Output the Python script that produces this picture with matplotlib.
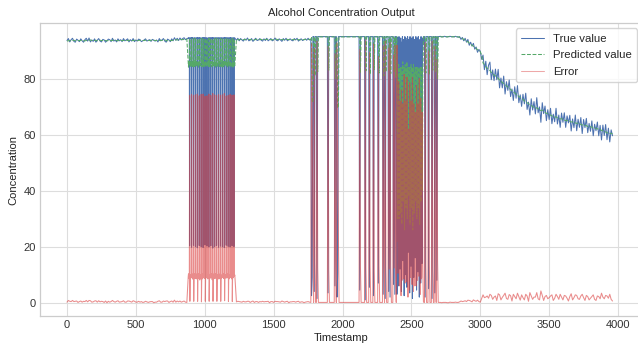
import numpy as np
import matplotlib
matplotlib.use("Agg")
import matplotlib.pyplot as plt
import seaborn as sns

# ---------------- data ----------------
# Segment A: t = 0..870 step 10
seg_a_true = [93.6, 94.3, 93.1, 93.9, 94.4, 93.3, 93.0, 94.1, 93.7, 93.2,
              94.2, 93.5, 93.0, 93.9, 94.4, 93.4, 94.5, 93.1, 93.8, 93.3,
              94.2, 93.0, 93.7, 94.3, 93.4, 93.1, 94.0, 93.8, 93.0, 93.5,
              94.1, 93.9, 93.2, 94.4, 93.4, 93.8, 93.1, 94.2, 93.5, 93.9,
              93.2, 94.3, 93.5, 93.8, 94.2, 93.1, 93.9, 93.4, 94.3, 93.2,
              93.8, 93.4, 94.1, 93.9, 93.2, 93.5, 93.8, 94.2, 93.4, 93.7,
              93.9, 93.3, 94.0, 93.7, 93.4, 93.8, 93.1, 94.3, 93.5, 93.8,
              94.3, 93.4, 93.0, 94.1, 93.8, 93.2, 94.2, 93.5, 94.6, 93.7,
              94.4, 93.6, 94.5, 93.8, 94.3, 94.6, 93.9, 94.2]
seg_a_pred = [93.4, 93.5, 93.6, 93.5, 93.6, 93.7, 93.5, 93.5, 93.6, 93.6,
              93.6, 93.7, 93.5, 93.5, 93.6, 93.7, 93.7, 93.8, 93.6, 93.6,
              93.6, 93.7, 93.5, 93.6, 93.7, 93.6, 93.6, 93.7, 93.6, 93.5,
              93.6, 93.7, 93.6, 93.6, 93.8, 93.6, 93.6, 93.5, 93.7, 93.6,
              93.6, 93.6, 93.7, 93.6, 93.6, 93.7, 93.5, 93.6, 93.6, 93.7,
              93.6, 93.6, 93.6, 93.7, 93.6, 93.6, 93.6, 93.7, 93.7, 93.6,
              93.6, 93.7, 93.6, 93.7, 93.6, 93.6, 93.6, 93.6, 93.7, 93.6,
              93.7, 93.8, 93.6, 93.5, 93.7, 93.6, 93.6, 93.7, 93.7, 93.9,
              93.8, 93.9, 93.9, 94.0, 93.9, 94.0, 94.1, 94.1]

# Segment B: t = 880..1218 step 2 (oscillating block)
seg_b_true = [94.5, 94.4, 94.6, 94.5, 94.5, 20.3, 94.5,
              94.6, 94.5, 94.4, 94.5, 94.6, 19.8, 94.6,
              94.4, 94.5, 94.6, 94.5, 94.4, 20.5, 94.4,
              94.5, 94.6, 94.5, 94.4, 94.5, 20.1, 94.5,
              94.5, 94.4, 94.5, 94.6, 94.5, 19.6, 94.7,
              94.6, 94.5, 94.4, 94.5, 94.6, 20.4, 94.5,
              94.4, 94.6, 94.5, 94.5, 94.4, 20.0, 94.4,
              94.5, 94.5, 94.6, 94.4, 94.5, 19.7, 94.6,
              94.6, 94.4, 94.5, 94.5, 94.6, 20.6, 94.5,
              94.5, 94.6, 94.4, 94.5, 94.5, 20.2, 94.3,
              94.4, 94.5, 94.5, 94.6, 94.4, 19.9, 94.5,
              94.5, 94.4, 94.6, 94.5, 94.5, 20.3, 94.6,
              94.6, 94.5, 94.5, 94.4, 94.6, 19.5, 94.4,
              94.5, 94.6, 94.4, 94.5, 94.5, 20.1, 94.5,
              94.4, 94.5, 94.6, 94.5, 94.4, 20.4, 94.6,
              94.5, 94.4, 94.5, 94.6, 94.5, 19.8, 94.5,
              94.6, 94.5, 94.4, 94.5, 94.6, 20.2, 94.4,
              94.5, 94.6, 94.5, 94.4, 94.5, 20.0, 94.5,
              94.4, 94.5, 94.6, 94.5, 94.4, 19.7, 94.7,
              94.5, 94.4, 94.5, 94.6, 94.5, 20.5, 94.5,
              94.6, 94.5, 94.4, 94.5, 94.6, 20.1, 94.4,
              94.5, 94.6, 94.5, 94.4, 94.5, 19.9, 94.6,
              94.4, 94.5, 94.6, 94.5, 94.4, 20.3, 94.5,
              94.5, 94.4, 94.5, 94.6, 94.5, 20.0, 94.4,
              94.6, 94.5]
seg_b_pred = [85.2, 84.1, 85.9, 84.6, 85.4, 94.3, 94.0,
              84.8, 86.2, 84.4, 85.5, 84.7, 94.2, 85.3,
              85.6, 84.3, 85.0, 86.1, 84.5, 94.4, 93.9,
              84.2, 85.7, 84.9, 85.1, 85.8, 94.3, 84.8,
              85.9, 84.5, 86.0, 84.4, 85.2, 94.1, 94.2,
              84.6, 85.8, 84.1, 85.3, 84.9, 94.3, 85.6,
              86.3, 84.7, 85.4, 84.6, 85.7, 94.4, 94.1,
              85.4, 84.2, 86.1, 85.0, 84.4, 94.2, 85.1,
              84.7, 85.6, 84.3, 85.8, 85.1, 94.3, 94.0,
              85.9, 84.4, 85.2, 84.1, 85.6, 94.1, 84.7,
              84.5, 86.0, 84.8, 85.6, 84.3, 94.4, 94.0,
              85.0, 84.3, 85.9, 84.7, 85.5, 94.3, 85.4,
              85.7, 84.9, 84.2, 86.2, 84.8, 94.2, 93.9,
              84.3, 85.4, 85.8, 84.5, 85.9, 94.3, 84.9,
              85.5, 84.1, 85.1, 85.9, 84.6, 94.4, 94.1,
              84.8, 85.7, 84.4, 85.2, 86.0, 94.1, 85.2,
              86.1, 84.6, 85.5, 84.3, 85.3, 94.3, 93.9,
              84.6, 85.9, 84.8, 85.4, 84.2, 94.2, 85.5,
              85.3, 84.2, 86.0, 84.9, 85.6, 94.4, 94.0,
              84.4, 85.3, 84.6, 85.8, 84.9, 94.3, 84.6,
              85.8, 84.7, 85.2, 84.2, 85.7, 94.1, 94.0,
              84.9, 86.1, 84.5, 85.6, 84.4, 94.3, 85.3,
              85.3, 84.2, 85.7, 84.8, 85.9, 94.4, 94.1,
              84.5, 85.6, 84.1, 85.4, 85.0, 94.2, 84.8,
              85.0, 84.6]

# Segment C: t = 1230..1770 step 10
seg_c_true = [93.7, 94.4, 93.5, 94.3, 93.8, 93.4, 94.2, 93.7, 94.5, 93.5,
              93.8, 94.3, 93.3, 93.9, 94.4, 93.6, 93.8, 94.3, 93.7, 93.4,
              94.2, 93.6, 94.4, 93.5, 93.9, 94.3, 93.5, 93.8, 94.5, 93.7,
              93.5, 94.2, 93.8, 93.3, 94.3, 93.7, 94.4, 93.5, 93.9, 94.2,
              93.7, 93.5, 94.3, 93.8, 94.4, 93.4, 93.9, 94.2, 93.6, 93.9,
              94.2, 93.7, 94.4, 93.8, 94.1]
seg_c_pred = [94.0, 93.9, 93.9, 94.0, 94.0, 93.9, 93.9, 94.0, 94.0, 94.0,
              93.9, 93.9, 93.9, 93.8, 94.0, 94.0, 93.9, 93.9, 94.0, 93.9,
              93.9, 94.0, 94.0, 94.0, 93.9, 93.9, 93.9, 93.9, 94.0, 94.1,
              93.9, 93.9, 94.0, 93.9, 93.9, 93.9, 94.0, 94.0, 93.9, 93.9,
              94.0, 93.9, 93.9, 94.0, 94.0, 93.9, 93.8, 93.9, 93.9, 93.9,
              94.0, 94.0, 94.0, 94.0, 94.0]

# Segment D: plateau at 95 with drop-outs (t step 5), dense block step 2.5
seg_d_level_true = 95.0
seg_d_level_pred = 94.9
spike_t = [1775, 1780, 1785, 1795, 1800, 1815, 1820, 1895, 1900, 1945, 1950,
           1960, 1965, 1970, 2125, 2130, 2165, 2170, 2195, 2200, 2225, 2230,
           2260, 2265, 2295, 2300, 2310, 2315, 2335, 2340, 2345, 2350, 2370,
           2375, 2380, 2385, 2600, 2605, 2625, 2630, 2650, 2655, 2670, 2675,
           2685, 2690]
spike_true = [2.5, 9.0, 95.0, 4.0, 95.0, 1.5, 95.0, 3.5, 95.0, 6.0, 95.0,
              2.0, 10.5, 95.0, 4.5, 95.0, 1.0, 95.0, 5.5, 95.0, 2.5, 95.0,
              7.0, 95.0, 3.0, 95.0, 1.5, 95.0, 4.0, 95.0, 2.0, 95.0, 6.5,
              95.0, 3.0, 95.0, 2.0, 95.0, 5.0, 95.0, 1.5, 95.0, 3.5, 95.0,
              8.0, 95.0]
spike_pred = [94.9, 72.0, 71.5, 94.9, 81.0, 94.9, 82.5, 94.9, 83.0, 94.9, 80.0,
              94.8, 69.5, 70.0, 94.9, 82.0, 94.9, 82.8, 94.9, 81.5, 94.9, 83.2,
              94.9, 82.0, 94.9, 81.0, 94.9, 82.4, 94.9, 83.0, 94.9, 81.8, 94.9,
              82.6, 94.9, 80.5, 94.9, 82.0, 94.9, 81.5, 94.9, 83.0, 94.9, 82.2,
              94.9, 80.0]
dense_true = [3.0, 8.0, 94.8, 90.5, 93.0, 6.0, 95.0, 88.0, 92.5, 12.0,
              91.0, 94.5, 86.5, 4.0, 93.0, 90.0, 95.0, 15.0, 89.0, 94.0,
              91.5, 2.5, 87.0, 95.0, 92.0, 10.0, 94.5, 89.5, 93.5, 5.5,
              90.0, 95.0, 86.0, 18.0, 92.5, 94.0, 88.5, 3.5, 95.0, 91.0,
              93.5, 13.0, 87.5, 94.5, 90.5, 1.5, 92.0, 95.0, 89.0, 9.0,
              94.0, 91.5, 86.0, 16.0, 93.0, 95.0, 90.0, 4.5, 88.0, 94.5,
              92.0, 11.0, 95.0, 89.5, 93.5, 2.0, 91.0, 94.0, 87.0, 7.0,
              95.0, 90.5, 93.0, 14.0, 88.5, 94.5, 92.0, 95.0]
dense_pred = [94.9, 30.0, 35.0, 80.0, 82.0, 85.0, 30.0, 82.0, 80.0, 84.0,
              32.0, 78.0, 84.0, 80.0, 28.0, 82.0, 80.0, 86.0, 36.0, 78.0,
              83.0, 84.0, 26.0, 80.0, 85.0, 82.0, 34.0, 82.0, 80.0, 86.0,
              30.0, 78.0, 84.0, 80.0, 38.0, 80.0, 84.0, 82.0, 28.0, 82.0,
              80.0, 85.0, 34.0, 78.0, 84.0, 82.0, 26.0, 80.0, 85.0, 80.0,
              32.0, 82.0, 80.0, 84.0, 36.0, 80.0, 84.0, 82.0, 30.0, 78.0,
              84.0, 82.0, 34.0, 80.0, 84.0, 82.0, 28.0, 80.0, 84.0, 80.0,
              36.0, 82.0, 84.0, 82.0, 40.0, 80.0, 86.0, 94.6]

# Segment E: t = 2700..3960 step 10 (plateau then decline)
seg_e_true = [95.0, 95.1, 94.9, 95.0, 95.1, 95.0, 94.9, 95.0, 95.1, 95.0, 94.9, 95.0, 95.1, 94.9,
              94.8, 95.0, 94.0, 94.7, 93.5, 94.4, 93.0, 94.0, 91.9, 93.0, 91.6, 92.6, 90.5, 91.3, 89.4, 90.4,
              89.8, 86.9, 88.4, 83.2, 86.2, 81.4, 84.8, 85.9, 79.6, 83.1,
              79.3, 83.4, 79.6, 83.3, 76.7, 80.2, 76.7, 80.9, 74.5, 78.9,
              75.8, 79.5, 73.6, 76.3, 72.2, 77.1, 73.0, 77.5, 71.4, 74.2,
              70.1, 74.4, 71.0, 74.8, 69.0, 71.6, 67.0, 72.8, 68.8, 71.8,
              67.4, 73.2, 67.8, 69.9, 64.4, 71.4, 67.5, 70.2, 65.0, 68.9,
              65.4, 69.4, 63.9, 67.3, 64.6, 69.4, 63.8, 67.0, 62.6, 67.7,
              64.4, 67.8, 62.6, 66.7, 64.2, 66.9, 61.3, 65.6, 62.5, 67.0,
              61.4, 65.5, 62.6, 66.1, 60.4, 65.4, 62.5, 65.8, 60.7, 64.0,
              61.2, 64.9, 59.6, 63.7, 61.4, 64.5, 59.6, 63.3, 58.1, 63.4,
              59.7, 63.6, 58.2, 62.3, 57.4, 61.7, 59.6]
seg_e_pred = [94.9, 95.0, 94.9, 94.9, 95.0, 94.9, 94.9, 95.0, 94.9, 94.9, 95.0, 94.9, 94.9, 95.0,
              94.9, 94.7, 94.6, 94.3, 94.0, 93.7, 93.4, 93.1, 92.7, 92.4, 91.9, 91.6, 91.2, 90.8, 90.3, 90.0,
              89.6, 88.4, 85.6, 85.0, 84.2, 83.8, 83.2, 82.9, 82.2, 81.9,
              81.3, 81.0, 80.4, 80.1, 79.5, 79.2, 78.6, 78.3, 77.9, 77.4,
              77.0, 76.6, 76.1, 75.7, 75.2, 74.9, 74.4, 74.1, 73.6, 73.3,
              72.9, 72.6, 72.0, 71.8, 71.4, 71.1, 70.6, 70.4, 70.0, 69.8,
              69.4, 69.6, 69.2, 68.9, 68.6, 68.8, 68.3, 68.0, 67.6, 67.5,
              67.2, 67.0, 66.7, 66.5, 66.2, 66.4, 66.0, 65.8, 65.6, 65.7,
              65.4, 65.2, 65.0, 65.1, 64.8, 64.7, 64.5, 64.6, 64.3, 64.2,
              64.0, 64.1, 63.8, 63.7, 63.4, 63.6, 63.3, 63.2, 62.9, 63.0,
              62.8, 62.7, 62.4, 62.5, 62.2, 62.1, 61.8, 61.9, 61.5, 61.4,
              61.1, 61.0, 60.6, 60.7, 60.4, 60.5, 60.2]

x_ticks = [0, 500, 1000, 1500, 2000, 2500, 3000, 3500, 4000]
y_ticks = [0, 20, 40, 60, 80]

# ---------------- assemble series ----------------
t_a = np.arange(0, 880, 10)
t_b = np.arange(880, 1220, 2)
t_c = np.arange(1230, 1775, 10)
t_d1 = np.arange(1775, 2395, 5)
t_dense = np.arange(2395, 2590, 2.5)
t_d2 = np.arange(2590, 2700, 5)
t_e = np.arange(2700, 3970, 10)

def plateau(times):
    tr = np.full(len(times), seg_d_level_true)
    pr = np.full(len(times), seg_d_level_pred)
    pos = {int(t): i for i, t in enumerate(times)}
    for t, v, p in zip(spike_t, spike_true, spike_pred):
        if t in pos:
            tr[pos[t]] = v
            pr[pos[t]] = p
    return tr, pr

true_d1, pred_d1 = plateau(t_d1)
true_d2, pred_d2 = plateau(t_d2)

timestamp = np.concatenate([t_a, t_b, t_c, t_d1, t_dense, t_d2, t_e])
true_vals = np.concatenate([seg_a_true, seg_b_true, seg_c_true, true_d1,
                            dense_true, true_d2, seg_e_true])
pred_vals = np.concatenate([seg_a_pred, seg_b_pred, seg_c_pred, pred_d1,
                            dense_pred, pred_d2, seg_e_pred])
error_vals = np.abs(true_vals - pred_vals)

# ---------------- plot ----------------
sns.set_style("whitegrid")
plt.rcParams['font.family'] = ['Liberation Sans', 'DejaVu Sans']

fig = plt.figure(figsize=(6.38, 3.51), dpi=100)
ax = fig.add_axes([40 / 638, 35 / 351, 602 / 638, 292.7 / 351])

ax.plot(timestamp, true_vals, color='#4C72B0', lw=0.75, label='True value')
ax.plot(timestamp, pred_vals, color='#55A868', lw=0.75, ls='--', label='Predicted value')
ax.plot(timestamp, error_vals, color='#DB3F3F', lw=0.75, alpha=0.6, label='Error')

ax.set_xlim(-196, 4174)
ax.set_ylim(-4.75, 99.75)
ax.set_xticks(x_ticks)
ax.set_yticks(y_ticks)
ax.tick_params(labelsize=8, colors='#333333', length=0, pad=3)
for s in ax.spines.values():
    s.set_color('#cccccc')
    s.set_linewidth(0.9)
ax.grid(True, color='#dddddd', lw=0.8)

ax.set_title('Alcohol Concentration Output', fontsize=8, color='#222222', pad=5)
ax.set_xlabel('Timestamp', fontsize=8, color='#222222', labelpad=2)
ax.set_ylabel('Concentration', fontsize=8, color='#222222', labelpad=4)
leg = ax.legend(loc='upper right', fontsize=8.2, frameon=True, framealpha=0.8,
                handlelength=2.0, borderpad=0.45, labelspacing=0.6,
                borderaxespad=0.45)
leg.get_frame().set_edgecolor('#cccccc')
leg.legend_handles[2].set_alpha(0.45)

fig.savefig('out.png', dpi=100)
